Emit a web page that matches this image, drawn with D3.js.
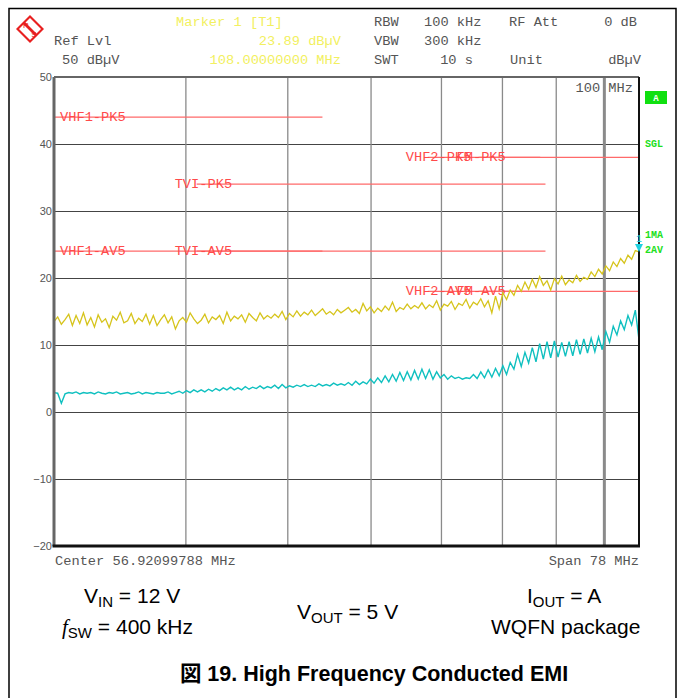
<!DOCTYPE html>
<html>
<head>
<meta charset="utf-8">
<script src="https://cdn.jsdelivr.net/npm/d3@7"></script>
<style>
  body { margin: 0; background: #fff; }
  svg { display: block; }
  .mono { font-family: "Liberation Mono", "DejaVu Sans Mono", monospace; }
  .cap { font-family: "Liberation Sans", Arial, "Noto Sans CJK JP", sans-serif; fill: #000; }
</style>
</head>
<body>
<svg id="chart" width="684" height="698"></svg>
<script>
// sweep settings (analyser x axis, log sweep)
var sweepStart = 30;   // MHz
var sweepStop = 108;   // MHz
var yTicks = [-20, -10, 0, 10, 20, 30, 40, 50];
var xGrid = [40, 50, 60, 70, 80, 90, 100];

// CISPR 25 class 5 limit lines
var limitNames = ["VHF1-PK5", "VHF1-AV5", "TVI-PK5", "TVI-AV5", "VHF2-PK5", "VHF2-AV5", "FM-PK5", "FM-AV5"];
var limitStart = [30, 30, 41, 41, 68, 68, 76, 76];
var limitStop = [54, 54, 88, 88, 87, 87, 108, 108];
var limitLevel = [44, 24, 34, 24, 38, 18, 38, 18];

// trace 1: max hold (peak), dBuV, equally spaced sweep points
var peakTrace = [
    13.5, 14.2, 13.1, 13.8, 14.6, 12.9, 14.4, 13.2, 14.8, 13.0,
    14.1, 12.7, 14.5, 13.4, 13.9, 12.6, 14.3, 13.7, 14.9, 13.3,
    13.6, 14.7, 13.2, 14.0, 13.5, 14.6, 13.1, 14.4, 12.9, 13.8,
    14.5, 13.3, 14.2, 12.4, 13.6, 14.1, 13.4, 14.8, 13.9, 13.2,
    13.7, 14.6, 13.3, 14.2, 13.8, 14.4, 13.2, 14.9, 13.6, 14.3,
    13.9, 14.5, 13.4, 14.7, 14.1, 13.6, 14.8, 13.9, 14.4, 14.0,
    14.6, 14.1, 15.0, 13.8, 14.7, 14.2, 15.1, 14.3, 14.9, 14.5,
    15.2, 14.4, 14.9, 15.4, 14.6, 15.0, 14.5, 15.3, 14.8, 15.2,
    15.6, 14.9, 15.3, 14.7, 16.2, 15.1, 15.7, 14.8, 15.5, 15.0,
    15.8, 15.2, 16.4, 15.0, 15.6, 15.3, 16.1, 15.4, 15.9, 15.5,
    16.3, 15.4, 16.0, 15.6, 16.6, 15.2, 16.1, 15.8, 16.5, 15.3,
    16.2, 15.9, 16.8, 15.5, 16.4, 16.0, 16.9, 15.7, 16.6, 14.8,
    17.3, 15.4, 17.8, 16.8, 18.2, 17.4, 18.9, 18.0, 19.4, 18.3,
    19.8, 18.6, 20.2, 18.9, 19.6, 18.2, 19.9, 19.1, 20.3, 19.0,
    19.7, 19.3, 20.4, 19.5, 20.1, 19.8, 20.9, 20.2, 21.3, 20.6,
    21.8, 21.1, 22.4, 21.7, 22.9, 22.2, 23.4, 22.8, 24.1, 23.9
];

// trace 2: average, dBuV
var avgTrace = [
    2.9, 2.8, 1.3, 2.7, 2.9, 2.8, 3.0, 2.7, 2.9, 2.8,
    2.9, 2.7, 3.0, 2.8, 2.7, 2.9, 2.8, 3.0, 2.7, 2.8,
    2.9, 2.7, 2.8, 3.0, 2.7, 2.9, 2.8, 2.7, 2.9, 2.8,
    2.8, 3.0, 2.7, 2.9, 3.1, 2.8, 3.2, 2.9, 3.3, 3.0,
    3.3, 3.0, 3.4, 3.1, 3.5, 3.2, 3.6, 3.3, 3.7, 3.3,
    3.6, 3.3, 3.8, 3.4, 3.7, 3.5, 3.9, 3.5, 3.8, 3.6,
    4.0, 3.5, 4.1, 3.6, 3.9, 3.7, 4.0, 3.8, 4.1, 3.8,
    4.0, 3.8, 4.2, 3.9, 4.1, 3.9, 4.3, 4.0, 4.2, 4.0,
    4.4, 4.0, 4.6, 4.1, 4.5, 4.2, 4.9, 4.3, 5.1, 4.4,
    5.4, 4.5, 5.6, 4.6, 5.9, 4.7, 6.0, 4.8, 6.2, 4.9,
    6.4, 5.0, 6.3, 4.9, 6.0, 5.1, 5.6, 4.9, 5.4, 5.0,
    5.2, 4.9, 5.1, 5.0, 5.6, 5.0, 6.0, 5.1, 6.3, 5.2,
    6.5, 5.4, 6.9, 5.6, 7.4, 6.4, 8.6, 6.8, 8.9, 7.3,
    9.6, 7.5, 10.2, 7.9, 10.5, 8.1, 10.6, 8.2, 10.4, 8.3,
    10.5, 8.4, 10.8, 8.6, 10.9, 8.8, 11.0, 9.0, 11.2, 9.3,
    12.0, 10.4, 12.8, 11.5, 13.6, 12.3, 14.4, 13.0, 15.2, 10.8
];

var markerFreq = 108, markerLevel = 23.89;

// ---------------------------------------------------------------------------

var svg = d3.select("#chart");
var pL = 54, pR = 639, pT = 77, pB = 546;
var monoSize = 13.7;

var x = d3.scaleLog().domain([sweepStart, sweepStop]).range([pL, pR]);
var y = d3.scaleLinear().domain([-20, 50]).range([pB, pT]);

function sweepFreq(i, n) {
    return sweepStart * Math.pow(sweepStop / sweepStart, i / (n - 1));
}

// outer frame
svg.append("path")
    .attr("d", "M9,699 L9,8.5 L676,8.5 L676,699")
    .attr("fill", "none").attr("stroke", "#000").attr("stroke-width", 1.5);

// R&S logo
var logo = svg.append("g").attr("transform", "translate(30,29)");
logo.append("path").attr("d", "M0,-14 L14,0 L0,14 L-14,0 Z").attr("fill", "#e82020");
logo.append("path").attr("d", "M0,-11 L11,0 L0,11 L-11,0 Z").attr("fill", "#fff");
logo.append("path").attr("d", "M-5,-7 L7,5 L5,7 L-7,-5 Z").attr("fill", "#e82020");
logo.append("text").attr("x", -4).attr("y", -1).attr("font-size", 8).attr("fill", "#e82020")
    .attr("text-anchor", "middle").attr("font-family", "Liberation Sans").text("R");
logo.append("text").attr("x", 4).attr("y", 8).attr("font-size", 8).attr("fill", "#e82020")
    .attr("text-anchor", "middle").attr("font-family", "Liberation Sans").text("S");

// header texts
var hdr = [
    [176, 26, "Marker 1 [T1]", "start", "#f2f060"],
    [374, 26, "RBW", "start", "#555"],
    [424, 26, "100 kHz", "start", "#555"],
    [509, 26, "RF Att", "start", "#555"],
    [637, 26, "0 dB", "end", "#555"],
    [54, 45, "Ref Lvl", "start", "#555"],
    [341, 45, "23.89 dB\u00b5V", "end", "#f2f060"],
    [374, 45, "VBW", "start", "#555"],
    [424, 45, "300 kHz", "start", "#555"],
    [62, 64, "50 dB\u00b5V", "start", "#555"],
    [341, 64, "108.00000000 MHz", "end", "#f2f060"],
    [374, 64, "SWT", "start", "#555"],
    [473, 64, "10 s", "end", "#555"],
    [510, 64, "Unit", "start", "#555"],
    [641, 64, "dB\u00b5V", "end", "#555"]
];
svg.selectAll("text.hdr").data(hdr).enter().append("text")
    .attr("class", "hdr mono")
    .attr("x", d => d[0]).attr("y", d => d[1])
    .attr("text-anchor", d => d[3])
    .attr("fill", d => d[4])
    .attr("font-size", monoSize)
    .text(d => d[2]);

// grid
var gy = svg.append("g").attr("transform", "translate(" + pL + ",0)")
    .call(d3.axisLeft(y).tickValues(yTicks).tickSize(-(pR - pL)).tickSizeOuter(0));
gy.select(".domain").remove();
gy.selectAll(".tick line").attr("stroke", "#444").attr("stroke-width", 1);
gy.selectAll(".tick text").attr("x", -2).attr("fill", "#555")
    .attr("font-family", "Liberation Sans").attr("font-size", 11);

var gx = svg.append("g").attr("transform", "translate(0," + pB + ")")
    .call(d3.axisBottom(x).tickValues(xGrid).tickSize(-(pB - pT)).tickFormat(""));
gx.select(".domain").remove();
gx.selectAll(".tick line")
    .attr("stroke", "#8a8a8a")
    .attr("stroke-width", d => d == 100 ? 3 : 1.3);

// limit lines
var limits = limitNames.map((n, i) => ({ name: n, f0: limitStart[i], f1: limitStop[i], lvl: limitLevel[i] }));
svg.selectAll("line.limit").data(limits).enter().append("line")
    .attr("class", "limit")
    .attr("x1", d => x(d.f0)).attr("x2", d => x(d.f1))
    .attr("y1", d => y(d.lvl)).attr("y2", d => y(d.lvl))
    .attr("stroke", "#ff6a6a").attr("stroke-width", 1.2);
svg.selectAll("text.limit").data(limits).enter().append("text")
    .attr("class", "limit mono")
    .attr("x", d => Math.max(pL + 6, x(d.f0) - 22))
    .attr("y", d => y(d.lvl) + 4)
    .attr("fill", "#ff4a4a").attr("font-size", monoSize)
    .text(d => d.name);

// traces
function traceLine(arr) {
    return d3.line()
        .x((d, i) => x(sweepFreq(i, arr.length)))
        .y(d => y(d))(arr);
}
svg.append("path").attr("d", traceLine(avgTrace))
    .attr("fill", "none").attr("stroke", "#10c0c0").attr("stroke-width", 1.4);
svg.append("path").attr("d", traceLine(peakTrace))
    .attr("fill", "none").attr("stroke", "#d6c41c").attr("stroke-width", 1.3);

// plot frame
svg.append("line").attr("x1", pL).attr("x2", pR).attr("y1", pT).attr("y2", pT)
    .attr("stroke", "#666").attr("stroke-width", 2);
svg.append("line").attr("x1", pL).attr("x2", pL).attr("y1", pT).attr("y2", pB)
    .attr("stroke", "#666").attr("stroke-width", 3);
svg.append("line").attr("x1", pR).attr("x2", pR).attr("y1", pT).attr("y2", pB)
    .attr("stroke", "#111").attr("stroke-width", 2);
svg.append("line").attr("x1", pL - 1.5).attr("x2", pR + 1).attr("y1", pB).attr("y2", pB)
    .attr("stroke", "#111").attr("stroke-width", 3);

// marker
var mx = x(markerFreq), my = y(markerLevel);
svg.append("path").attr("d", "M" + (mx - 4) + "," + (my - 8) + " L" + (mx + 4) + "," + (my - 8) + " L" + mx + "," + my + " Z")
    .attr("fill", "#20d0e0");
svg.append("text").attr("class", "mono").attr("x", mx).attr("y", my - 10)
    .attr("text-anchor", "middle").attr("fill", "#20d0e0").attr("font-size", 10).text("1");

svg.append("text").attr("class", "mono").attr("x", 633).attr("y", 92)
    .attr("text-anchor", "end").attr("fill", "#555").attr("font-size", monoSize).text("100 MHz");

// right side status
svg.append("rect").attr("x", 645).attr("y", 91).attr("width", 22).attr("height", 13).attr("fill", "#10e010");
svg.append("text").attr("class", "mono").attr("x", 656).attr("y", 101).attr("text-anchor", "middle")
    .attr("fill", "#fff").attr("font-size", 9).attr("font-weight", "bold").text("A");
[["SGL", 147], ["1MA", 238], ["2AV", 253]].forEach(function (s) {
    svg.append("text").attr("class", "mono").attr("x", 645).attr("y", s[1])
        .attr("fill", "#20e020").attr("font-size", 10).attr("font-weight", "bold").text(s[0]);
});

// bottom axis texts
svg.append("text").attr("class", "mono").attr("x", 55).attr("y", 565)
    .attr("fill", "#555").attr("font-size", monoSize).text("Center 56.92099788 MHz");
svg.append("text").attr("class", "mono").attr("x", 639).attr("y", 565).attr("text-anchor", "end")
    .attr("fill", "#555").attr("font-size", monoSize).text("Span 78 MHz");

// caption
function capText(px, py, parts) {
    var t = svg.append("text").attr("class", "cap").attr("x", px).attr("y", py).attr("font-size", 21);
    parts.forEach(function (p) {
        var s = t.append("tspan").text(p[0]);
        if (p[1] == "sub") s.attr("font-size", 15).attr("dy", 4);
        if (p[1] == "back") s.attr("dy", -4);
        if (p[1] == "it") s.attr("font-style", "italic").attr("font-family", "Liberation Serif");
    });
}
capText(84, 603, [["V"], ["IN", "sub"], [" = 12 V", "back"]]);
capText(62, 634, [["f", "it"], ["SW", "sub"], [" = 400 kHz", "back"]]);
capText(297, 619, [["V"], ["OUT", "sub"], [" = 5 V", "back"]]);
capText(527, 603, [["I"], ["OUT", "sub"], [" = A", "back"]]);
capText(491, 634, [["WQFN package"]]);

svg.append("text").attr("class", "cap").attr("x", 374).attr("y", 681)
    .attr("text-anchor", "middle").attr("font-size", 21.5).attr("font-weight", "bold")
    .text("図 19. High Frequency Conducted EMI");
</script>
</body>
</html>
